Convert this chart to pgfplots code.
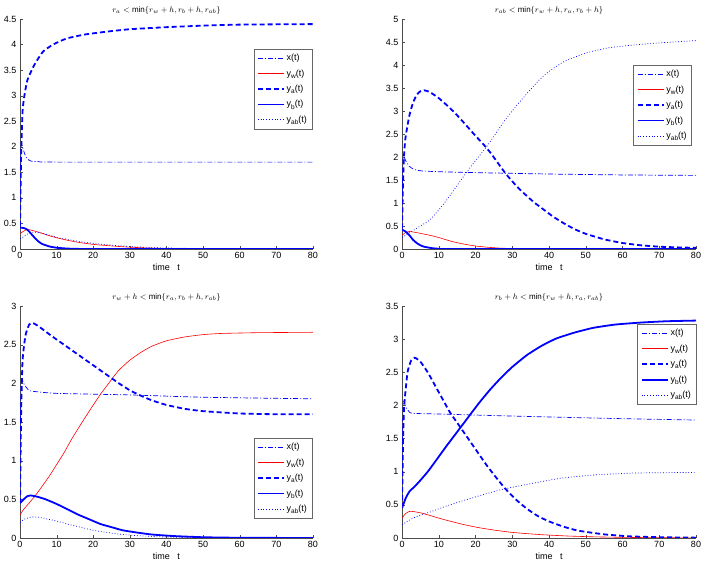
\documentclass[border=0pt]{standalone}
\usepackage{fontspec}
\setmainfont{Liberation Sans}
\usepackage{pgfplots}
\pgfplotsset{compat=1.18}
\newcommand{\ys}[1]{y\raisebox{-2.2pt}{\fontsize{6.5}{7}\selectfont #1}(t)}
\pgfplotsset{
  mstyle/.style={
    scale only axis,
    axis x line*=bottom, axis y line*=left,
    axis line style={black!70, line width=0.5pt},
    xmin=0, xmax=80, xtick={0,10,...,80},
    tick align=inside, major tick length=3pt,
    tick style={black!70},
    /pgf/number format/assume math mode=true,
    tick label style={font=\fontsize{9}{10}\selectfont},
    xlabel={time\ \ \ t},
    xlabel style={font=\fontsize{9}{10}\selectfont, yshift=2pt},
    title style={font=\fontsize{8}{9}\selectfont, yshift=-5pt},
    legend cell align=left,
    legend style={font=\fontsize{9}{10}\selectfont, draw=black!60, line width=0.5pt, row sep=3.4pt, inner xsep=3pt, inner ysep=3pt},
    legend image code/.code={\draw[##1] (0pt,0pt) -- (26pt,0pt);},
    every axis plot/.append style={no marks},
  },
}
\begin{document}
\begin{tikzpicture}[x=1pt,y=1pt]
\useasboundingbox (0,0) rectangle (706,564);
% ---------------- panel 1 ----------------
\begin{axis}[mstyle, at={(20pt,315pt)}, anchor=south west, width=293pt, height=230pt,
  ymin=0, ymax=4.5, ytick={0,0.5,...,4.5},
  title={$r_a<\min\{r_w+h,r_b+h,r_{ab}\}$},
  legend style={at={(0.997,0.87)}, anchor=north east}]
\addplot[color=blue, line width=0.7pt, dash pattern=on 5pt off 2pt on 1pt off 2pt, smooth, tension=0.3] coordinates {(0,1.0)(0.3,2.0)(0.6,2.02)(1,1.92)(1.5,1.82)(2,1.76)(3,1.72)(5,1.71)(10,1.7)(80,1.7)};
\addlegendentry{x(t)}
\addplot[color=red, line width=0.6pt, smooth, tension=0.3] coordinates {(0,0.3)(1,0.35)(2,0.38)(3,0.37)(5,0.33)(8,0.26)(10,0.22)(13,0.17)(16,0.13)(20,0.09)(25,0.06)(30,0.035)(35,0.02)(40,0.01)(50,0.004)(60,0.001)(80,0)};
\addlegendentry{\ys{w}}
\addplot[color=blue, line width=1.8pt, dash pattern=on 5pt off 3pt, smooth, tension=0.3] coordinates {(0,0.45)(0.3,1.8)(0.7,2.7)(1.2,3.0)(2,3.3)(3.6,3.56)(5,3.73)(6.4,3.87)(9,4.0)(12.8,4.12)(18,4.2)(24.6,4.26)(30,4.3)(40,4.34)(50,4.37)(60,4.39)(80,4.4)};
\addlegendentry{\ys{a}}
\addplot[color=blue, line width=1.8pt, smooth, tension=0.3] coordinates {(0,0.42)(1,0.41)(2,0.38)(3,0.3)(4,0.22)(5,0.15)(6,0.1)(8,0.05)(10,0.025)(13,0.008)(16,0.002)(20,0)(80,0)};
\addlegendentry{\ys{b}}
\addplot[color=blue, line width=0.7pt, dash pattern=on 0.8pt off 2pt, smooth, tension=0.3] coordinates {(0,0.2)(1,0.24)(2,0.29)(3,0.32)(4,0.33)(6,0.31)(8,0.27)(10,0.23)(15,0.16)(20,0.11)(25,0.075)(30,0.05)(35,0.03)(40,0.02)(50,0.007)(60,0.002)(80,0)};
\addlegendentry{\ys{ab}}
\end{axis}
% ---------------- panel 2 ----------------
\begin{axis}[mstyle, at={(402pt,315pt)}, anchor=south west, width=294pt, height=230pt,
  ymin=0, ymax=5, ytick={0,0.5,...,5},
  title={$r_{ab}<\min\{r_w+h,r_a,r_b+h\}$},
  legend style={at={(0.986,0.80)}, anchor=north east}]
\addplot[color=blue, line width=0.7pt, dash pattern=on 5pt off 2pt on 1pt off 2pt, smooth, tension=0.3] coordinates {(0,1.0)(0.3,2.0)(0.6,2.0)(1,1.92)(2,1.8)(3,1.74)(5,1.7)(10,1.68)(20,1.66)(40,1.63)(60,1.61)(80,1.6)};
\addlegendentry{x(t)}
\addplot[color=red, line width=0.6pt, smooth, tension=0.3] coordinates {(0,0.3)(1,0.36)(2,0.38)(3,0.37)(5,0.34)(8,0.29)(10,0.25)(12,0.2)(14,0.155)(16,0.12)(18,0.09)(20,0.065)(23,0.04)(26,0.022)(30,0.01)(40,0.002)(80,0)};
\addlegendentry{\ys{w}}
\addplot[color=blue, line width=1.8pt, dash pattern=on 5pt off 3pt, smooth, tension=0.3] coordinates {(0,0.45)(0.3,1.5)(0.6,2.1)(1,2.45)(2,2.9)(3,3.18)(4,3.35)(5,3.43)(6,3.45)(7,3.43)(8,3.39)(10,3.28)(12,3.14)(14,2.99)(16,2.82)(18,2.64)(20,2.46)(22,2.29)(24,2.1)(26,1.88)(28,1.66)(30,1.47)(32,1.3)(34,1.15)(36,1.01)(38,0.89)(41,0.71)(44,0.56)(47,0.43)(50,0.33)(55,0.21)(60,0.13)(65,0.08)(70,0.05)(75,0.035)(80,0.025)};
\addlegendentry{\ys{a}}
\addplot[color=blue, line width=1.8pt, smooth, tension=0.3] coordinates {(0,0.42)(1,0.38)(2,0.3)(3,0.2)(4,0.13)(5,0.08)(6,0.05)(8,0.02)(10,0.005)(13,0)(80,0)};
\addlegendentry{\ys{b}}
\addplot[color=blue, line width=0.7pt, dash pattern=on 0.8pt off 2pt, smooth, tension=0.3] coordinates {(0,0.25)(2,0.35)(5,0.5)(7.4,0.62)(10,0.85)(12.5,1.1)(15,1.38)(17.4,1.65)(20,1.92)(22.8,2.2)(25,2.45)(28,2.8)(31,3.1)(34,3.38)(37.4,3.68)(40,3.86)(44,4.07)(50,4.26)(56,4.37)(63.6,4.44)(70,4.48)(80,4.53)};
\addlegendentry{\ys{ab}}
\end{axis}
% ---------------- panel 3 ----------------
\begin{axis}[mstyle, at={(20pt,26pt)}, anchor=south west, width=293pt, height=232pt,
  ymin=0, ymax=3, ytick={0,0.5,...,3},
  title={$r_w+h<\min\{r_a,r_b+h,r_{ab}\}$},
  legend style={at={(0.997,0.431)}, anchor=north east}]
\addplot[color=blue, line width=0.7pt, dash pattern=on 5pt off 2pt on 1pt off 2pt, smooth, tension=0.3] coordinates {(0,1.0)(0.3,2.0)(0.6,2.05)(1,2.0)(2,1.93)(3,1.9)(10,1.87)(30,1.85)(50,1.82)(80,1.8)};
\addlegendentry{x(t)}
\addplot[color=red, line width=0.6pt, smooth, tension=0.3] coordinates {(0,0.3)(1,0.37)(3,0.48)(5,0.6)(8,0.8)(10,0.95)(12,1.1)(14,1.27)(17,1.5)(20,1.72)(22,1.86)(25,2.05)(27,2.17)(30,2.3)(33,2.4)(36,2.48)(40,2.55)(45,2.6)(50,2.63)(55,2.645)(65,2.655)(80,2.66)};
\addlegendentry{\ys{w}}
\addplot[color=blue, line width=1.8pt, dash pattern=on 5pt off 3pt, smooth, tension=0.3] coordinates {(0,0.45)(0.3,1.6)(0.7,2.3)(1.5,2.62)(2.5,2.76)(3.5,2.78)(5,2.74)(7,2.67)(9,2.6)(12,2.5)(15,2.4)(18,2.3)(21,2.2)(24,2.1)(27,2.0)(30,1.91)(33,1.84)(36,1.78)(40,1.72)(45,1.67)(50,1.64)(60,1.61)(70,1.6)(80,1.6)};
\addlegendentry{\ys{a}}
\addplot[color=blue, line width=1.8pt, smooth, tension=0.3] coordinates {(0,0.45)(1,0.5)(2,0.54)(3,0.55)(5,0.53)(7,0.5)(10,0.44)(13,0.37)(16,0.3)(19,0.24)(22,0.18)(25,0.14)(28,0.1)(32,0.07)(36,0.045)(42,0.025)(50,0.01)(60,0.003)(80,0)};
\addlegendentry{\ys{b}}
\addplot[color=blue, line width=0.7pt, dash pattern=on 0.8pt off 2pt, smooth, tension=0.3] coordinates {(0,0.2)(1,0.24)(3,0.27)(5,0.27)(7,0.25)(10,0.22)(13,0.18)(16,0.145)(20,0.1)(24,0.07)(28,0.045)(32,0.03)(40,0.012)(50,0.003)(80,0)};
\addlegendentry{\ys{ab}}
\end{axis}
% ---------------- panel 4 ----------------
\begin{axis}[mstyle, at={(402pt,26pt)}, anchor=south west, width=294pt, height=232pt,
  ymin=0, ymax=3.5, ytick={0,0.5,...,3.5},
  title={$r_b+h<\min\{r_w+h,r_a,r_{ab}\}$},
  legend style={at={(1.0,0.922)}, anchor=north east}]
\addplot[color=blue, line width=0.7pt, dash pattern=on 5pt off 2pt on 1pt off 2pt, smooth, tension=0.3] coordinates {(0,1.0)(0.3,2.0)(0.6,2.05)(1,1.98)(2,1.9)(3,1.88)(10,1.87)(30,1.84)(60,1.8)(80,1.78)};
\addlegendentry{x(t)}
\addplot[color=red, line width=0.6pt, smooth, tension=0.3] coordinates {(0,0.3)(1,0.37)(2,0.4)(3,0.4)(5,0.38)(7,0.35)(10,0.3)(13,0.255)(17,0.2)(21,0.155)(25,0.12)(29,0.09)(33,0.07)(38,0.05)(45,0.03)(52,0.018)(60,0.01)(70,0.004)(80,0.002)};
\addlegendentry{\ys{w}}
\addplot[color=blue, line width=1.8pt, dash pattern=on 5pt off 3pt, smooth, tension=0.3] coordinates {(0,0.45)(0.3,1.5)(0.6,2.0)(1.5,2.5)(2.5,2.68)(3.5,2.72)(5,2.66)(7,2.5)(9,2.3)(11,2.1)(13,1.9)(15.5,1.7)(18,1.5)(20.5,1.3)(23,1.1)(25.5,0.92)(28,0.75)(31,0.58)(34,0.44)(37,0.33)(40,0.25)(44,0.17)(48,0.11)(55,0.055)(62,0.025)(70,0.012)(80,0.005)};
\addlegendentry{\ys{a}}
\addplot[color=blue, line width=1.8pt, smooth, tension=0.3] coordinates {(0,0.45)(1,0.6)(2,0.7)(3.5,0.78)(5,0.87)(7,1.0)(9,1.15)(12,1.38)(15,1.6)(18,1.82)(21,2.04)(24,2.24)(27,2.42)(30,2.58)(34,2.76)(38,2.9)(42,3.01)(47,3.1)(52,3.17)(58,3.22)(65,3.25)(72,3.27)(80,3.28)};
\addlegendentry{\ys{b}}
\addplot[color=blue, line width=0.7pt, dash pattern=on 0.8pt off 2pt, smooth, tension=0.3] coordinates {(0,0.2)(3,0.3)(8,0.4)(13,0.5)(20,0.62)(27,0.73)(35,0.82)(43,0.9)(52,0.95)(63,0.98)(80,0.99)};
\addlegendentry{\ys{ab}}
\end{axis}
\end{tikzpicture}
\end{document}
